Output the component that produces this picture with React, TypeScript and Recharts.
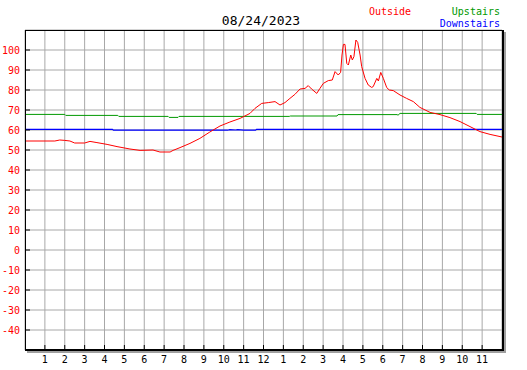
import { LineChart, Line, XAxis, YAxis, CartesianGrid } from "recharts";

const hourTicks = [1, 2, 3, 4, 5, 6, 7, 8, 9, 10, 11, 12, 13, 14, 15, 16, 17, 18, 19, 20, 21, 22, 23];
const tempTicks = [-40, -30, -20, -10, 0, 10, 20, 30, 40, 50, 60, 70, 80, 90, 100];

const outsideHours = [
  0, 1.5, 1.75, 2.0, 2.26, 2.5, 3.0, 3.27, 3.62, 4.13, 4.63, 5.28, 5.79, 6.44, 6.79, 7.3, 7.45, 7.8,
  8.3, 8.8, 9.3, 9.81, 10.31, 10.82, 11.32, 11.57, 11.91, 12.24, 12.58, 12.83, 13.08, 13.33, 13.58,
  13.84, 14.09, 14.25, 14.42, 14.68, 14.84, 15.01, 15.26, 15.46, 15.6, 15.76, 15.88, 15.95, 16.02,
  16.1, 16.19, 16.27, 16.39, 16.47, 16.55, 16.65, 16.74, 16.86, 16.94, 17.11, 17.27, 17.44, 17.52,
  17.7, 17.78, 17.9, 18.03, 18.2, 18.33, 18.53, 18.87, 19.2, 19.54, 19.87, 20.38, 20.88, 21.38,
  21.89, 22.39, 22.89, 23.4, 24,
];
const outsideTemps = [
  54.5, 54.5, 55, 54.8, 54.5, 53.5, 53.5, 54.3, 53.7, 52.8, 51.7, 50.5, 49.8, 50, 49, 49, 49.8, 51.2,
  53.3, 55.8, 59, 62, 64, 65.8, 68.3, 70.8, 73.3, 73.7, 74.2, 72.5, 73.7, 75.8, 77.8,
  80.5, 80.8, 82.2, 80.5, 78.3, 80.8, 83.3, 84.7, 85, 89.2, 87.5, 88.8, 97.5, 102.8,
  102.8, 93.3, 92.5, 97.5, 95, 96.7, 105, 103.8, 97.5, 91.7, 85.8, 82.5, 81.3, 81.7,
  85.8, 84.5, 88.8, 85.8, 81.2, 80, 79.7, 77.5, 75.8, 74.2, 71.3, 68.8, 67.7, 66.2,
  64.2, 61.7, 59.2, 57.8, 56.5,
];

const upstairsHours = [0, 2.0, 2.05, 4.67, 4.72, 7.2, 7.25, 7.7, 7.75, 13.3, 13.35, 15.7, 15.75, 18.72, 18.77, 18.87, 22.7, 22.75, 24];
const upstairsTemps = [67.8, 67.8, 67.3, 67.3, 66.8, 66.8, 66.3, 66.3, 66.8, 66.8, 67.0, 67.0, 67.7, 67.7, 67.4, 68.3, 68.3, 67.8, 67.8];

const downstairsHours = [0, 4.4, 4.45, 10.2, 10.3, 10.6, 10.7, 11.0, 11.6, 11.65, 24];
const downstairsTemps = [60.3, 60.3, 59.9, 59.9, 60.2, 60.0, 60.2, 59.9, 59.9, 60.3, 60.3];

const zip = (hs: number[], vs: number[]) => hs.map((h, i) => ({ h, v: vs[i] }));
const outside = zip(outsideHours, outsideTemps);
const upstairs = zip(upstairsHours, upstairsTemps);
const downstairs = zip(downstairsHours, downstairsTemps);

const FONT = "'DejaVu Sans Mono', monospace";

function YTick(props: any) {
  const { x, y, payload } = props;
  return (
    <g>
      <line x1={x + 5} x2={x + 10} y1={y} y2={y} stroke="#000" />
      <text x={x} y={y} dy="0.35em" textAnchor="end" fill="#ff0000" fontSize={10} fontFamily={FONT}>
        {payload.value}
      </text>
    </g>
  );
}

function XTick(props: any) {
  const { x, y, payload } = props;
  const label = payload.value % 12 === 0 ? 12 : payload.value % 12;
  return (
    <g>
      <line x1={x} x2={x} y1={y - 5} y2={y} stroke="#000" />
      <text x={x} y={y + 13} textAnchor="middle" fill="#000" fontSize={10} fontFamily={FONT}>
        {label}
      </text>
    </g>
  );
}

export default function App() {
  return (
    <div style={{ position: "absolute", left: 0, top: 0, width: 527, height: 370, background: "#fff" }}>
      <LineChart width={527} height={370} data={outside} margin={{ top: 30, right: 25, left: 0, bottom: 0 }}>
        <CartesianGrid stroke="#a8a8a8" />
        <XAxis
          type="number"
          dataKey="h"
          domain={[0, 24]}
          ticks={hourTicks}
          interval={0}
          height={20}
          tickSize={0}
          tickMargin={0}
          axisLine={false}
          tickLine={false}
          tick={<XTick />}
          allowDataOverflow
        />
        <YAxis
          type="number"
          domain={[-50, 110]}
          ticks={tempTicks}
          interval={0}
          width={25}
          tickSize={0}
          tickMargin={5}
          axisLine={false}
          tickLine={false}
          tick={<YTick />}
          allowDataOverflow
        />
        <Line data={upstairs} dataKey="v" type="linear" stroke="#009900" strokeWidth={1} dot={false} isAnimationActive={false} />
        <Line data={downstairs} dataKey="v" type="linear" stroke="#0000ff" strokeWidth={1.2} dot={false} isAnimationActive={false} />
        <Line data={outside} dataKey="v" type="linear" stroke="#ff0000" strokeWidth={1} dot={false} isAnimationActive={false} />
      </LineChart>
      <svg width={527} height={370} style={{ position: "absolute", left: 0, top: 0, pointerEvents: "none" }}>
        <rect x={504} y={32} width={2} height={321} fill="#a0a0a0" />
        <rect x={27} y={351} width={479} height={2} fill="#a0a0a0" />
        <line x1={25} x2={504} y1={30.5} y2={30.5} stroke="#000" />
        <line x1={25.5} x2={25.5} y1={30} y2={351} stroke="#000" />
        <rect x={502} y={30} width={2} height={321} fill="#000" />
        <rect x={25} y={349} width={479} height={2} fill="#000" />
        <text x={261} y={25} textAnchor="middle" fontSize={13} fontFamily={FONT} fill="#000">08/24/2023</text>
        <text x={369} y={15} fontSize={10} fontFamily={FONT} fill="#ff0000">Outside</text>
        <text x={500} y={15} textAnchor="end" fontSize={10} fontFamily={FONT} fill="#009900">Upstairs</text>
        <text x={500} y={27} textAnchor="end" fontSize={10} fontFamily={FONT} fill="#0000ff">Downstairs</text>
      </svg>
    </div>
  );
}
